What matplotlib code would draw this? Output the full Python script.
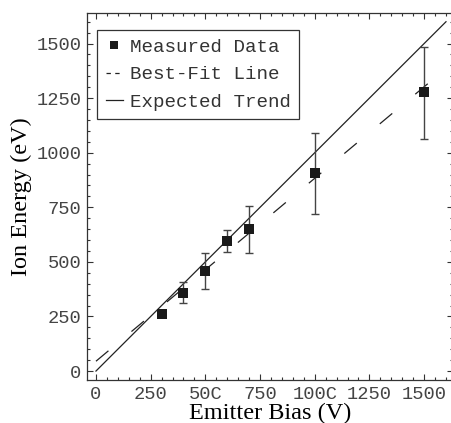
import matplotlib
matplotlib.use("Agg")
import matplotlib.pyplot as plt
import numpy as np
from matplotlib.ticker import MultipleLocator
from matplotlib.lines import Line2D

bias = [300, 400, 500, 600, 700, 1000, 1500]
energy = [261, 359, 460, 596, 649, 906, 1276]
err_low = [261, 313, 377, 543, 542, 720, 1063]
err_high = [261, 406, 539, 646, 756, 1092, 1486]

fit_slope = 0.838
fit_intercept = 45
line_x = [0, 1600]

xticks = [0, 250, 500, 750, 1000, 1250, 1500]
xticklabels = ["0", "250", "50C", "750", "100C", "1250", "1500"]
yticks = [0, 250, 500, 750, 1000, 1250, 1500]

mono = "Liberation Mono"
serif = "Liberation Serif"

fig = plt.figure(figsize=(4.52, 4.23), dpi=100)
ax = fig.add_axes([87/452, 43/423, 366/452, 367/423])

lw = 0.9
ax.plot(line_x, [fit_intercept + fit_slope*v for v in line_x], color="#222222",
        lw=lw, linestyle=(0, (13, 24)))
ax.plot(line_x, line_x, color="#222222", lw=lw)

yerr = [np.array(energy) - np.array(err_low), np.array(err_high) - np.array(energy)]
ax.errorbar(bias, energy, yerr=yerr, fmt="none", ecolor="#444444", elinewidth=1.0,
            capsize=3, capthick=1.0)
ax.plot(bias, energy, "s", color="#1a1a1a", markersize=6.5, markeredgewidth=0)

ax.set_xlim(-41, 1632)
ax.set_ylim(-41, 1640)
ax.set_xticks(xticks)
ax.set_xticklabels(xticklabels)
ax.set_yticks(yticks)
ax.xaxis.set_minor_locator(MultipleLocator(50))
ax.yaxis.set_minor_locator(MultipleLocator(50))
ax.tick_params(which="both", direction="in", top=True, right=True, color="#333333", width=0.8)
ax.tick_params(which="major", length=4.5, pad=4, labelsize=13.5, labelcolor="#444444")
ax.tick_params(which="minor", length=2.2)
for lab in ax.get_xticklabels() + ax.get_yticklabels():
    lab.set_fontfamily(mono)
for s in ax.spines.values():
    s.set_linewidth(0.9)
    s.set_color("#333333")

ax.set_xlabel("Emitter Bias (V)", fontfamily=serif, fontsize=17.5, labelpad=0)
ax.set_ylabel("Ion Energy (eV)", fontfamily=serif, fontsize=17.5, labelpad=3)

handles = [
    Line2D([], [], marker="s", color="#1a1a1a", linestyle="none", markersize=6, markeredgewidth=0),
    Line2D([], [], color="#222222", lw=lw, linestyle=(0, (3.5, 3.5))),
    Line2D([], [], color="#222222", lw=lw),
]
labels = ["Measured Data", "Best-Fit Line", "Expected Trend"]
leg = ax.legend(handles, labels, loc="upper left", bbox_to_anchor=(10/366, 1 - 17/367),
                prop={"family": mono, "size": 13.8}, frameon=True, fancybox=False,
                edgecolor="#333333", framealpha=1, handlelength=0.9, handletextpad=0.35,
                borderpad=0.45, labelspacing=0.52, borderaxespad=0)
leg.get_frame().set_linewidth(0.9)
for t in leg.get_texts():
    t.set_color("#333333")

fig.savefig("out.png", dpi=100)
